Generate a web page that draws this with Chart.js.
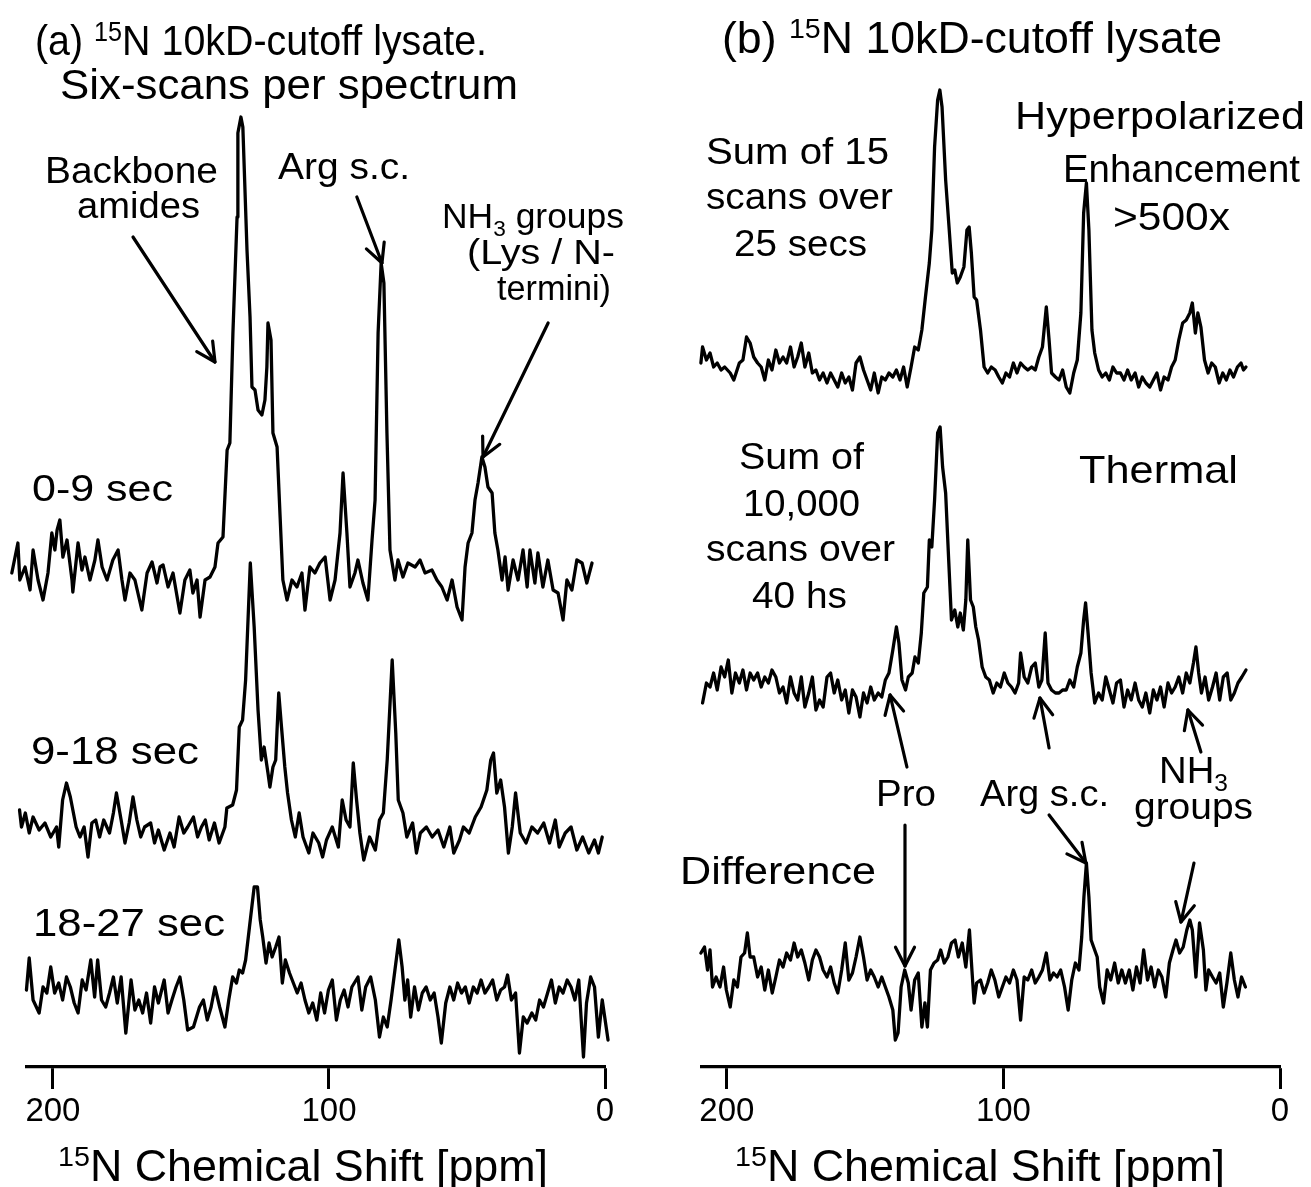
<!DOCTYPE html>
<html><head><meta charset="utf-8">
<script src="https://cdn.jsdelivr.net/npm/chart.js@4"></script>
<style>
body{margin:0;background:#fff}
#wrap{position:relative;width:1311px;height:1187px;background:#fff;overflow:hidden}
canvas{position:absolute;top:0}
</style>
</head><body>
<div id="wrap">
<canvas id="ca" width="655" height="1187" style="left:0"></canvas>
<canvas id="cb" width="656" height="1187" style="left:655px"></canvas>
</div>
<script>
// ---------- DATA (ppm positions and intensities) ----------
const tickVals = [0, 100, 200];

// Panel (a): 0-9 sec
const a0_ppm = [214.9,212.7,212.0,210.1,208.3,207.2,205.4,203.6,201.8,200.4,199.3,198.5,197.5,196.4,194.9,193.1,192.8,190.9,189.5,188.4,186.6,184.8,183.7,182.2,180.4,178.3,176.4,175.0,173.9,172.1,170.3,167.8,165.9,164.1,162.3,161.2,160.1,158.3,156.5,154.0,152.2,150.4,149.3,147.8,146.7,144.9,143.1,141.3,140.2,138.4,136.9,135.9,134.8,133.3,133.0,131.9,131.2,129.7,128.6,127.9,126.8,125.7,124.3,123.2,122.5,122.1,121.0,120.3,118.8,117.7,116.7,115.2,113.4,111.6,109.8,108.7,106.9,105.1,103.3,101.4,99.6,97.8,96.0,94.9,93.5,92.4,90.6,89.5,87.7,85.9,84.4,83.3,82.2,81.1,80.1,79.0,77.9,76.1,75.0,73.2,71.4,68.8,67.0,65.2,62.7,60.9,59.1,57.2,55.4,53.6,51.8,50.7,49.6,48.2,47.1,46.0,44.6,43.5,42.4,40.9,39.9,38.8,37.3,36.2,35.1,33.3,31.5,29.7,28.2,27.2,25.4,24.3,22.5,20.7,18.8,17.0,15.2,13.8,12.0,10.2,8.3,6.6,4.7];
const a0_int = [2,32,-5,8,-15,25,-5,-25,2,42,25,45,55,18,35,-5,-17,32,5,18,-5,15,35,8,-5,15,25,-5,-25,2,-5,-35,2,13,-8,8,10,-12,2,-38,-5,5,-18,-5,-42,-5,-2,8,32,38,125,132,242,358,442,458,448,325,258,188,185,165,160,175,208,252,235,142,128,58,-5,-25,-5,-12,2,-35,8,2,12,18,-25,-5,42,102,42,-12,2,15,-8,-25,35,75,242,312,292,142,25,-5,15,-2,12,8,15,2,5,-5,-12,-25,-5,-32,-45,8,32,42,75,92,118,108,88,82,42,25,-5,18,-15,15,-5,25,-12,25,-8,22,-12,15,-15,-18,-45,-5,-15,15,12,-8,12];

// Panel (a): 9-18 sec
const a1_ppm = [212.1,211.4,210.0,208.6,207.2,205.0,202.9,200.8,198.7,197.9,196.5,195.1,193.7,191.6,190.2,188.7,187.3,185.9,184.5,183.1,181.6,179.5,178.1,177.0,175.3,173.9,172.4,171.0,169.6,168.2,166.8,164.6,163.2,161.8,159.7,157.6,156.1,154.3,152.6,151.2,149.1,147.6,146.2,144.8,143.4,141.5,139.8,137.7,137.0,134.9,133.5,132.5,131.3,130.2,128.5,127.1,125.7,124.5,123.5,122.1,121.4,120.3,119.3,118.2,117.2,116.0,115.0,113.6,112.2,110.8,109.4,107.3,105.8,103.7,102.3,100.9,98.8,96.6,95.2,93.8,92.4,91.2,90.0,88.8,87.4,85.3,83.2,81.7,80.3,78.9,77.1,75.8,74.9,73.2,71.8,69.7,68.3,66.9,64.7,62.6,60.5,58.4,56.2,54.8,52.7,51.3,49.2,47.0,44.9,42.8,41.4,40.4,39.2,37.8,36.4,35.0,33.6,32.4,30.7,28.6,26.5,24.4,22.2,20.1,18.0,16.6,14.4,12.3,10.2,8.1,5.9,3.8,2.4,1.0];
const a1_int = [20,3,17,-3,13,0,7,-7,3,-17,30,47,33,3,-7,3,-27,7,10,-7,10,-3,17,37,10,-13,7,33,10,-7,3,7,-13,0,-20,-3,-17,13,-3,3,13,-7,3,10,-10,7,-13,3,22,25,40,103,110,150,267,203,120,70,83,57,43,63,70,137,103,63,37,10,-7,17,-7,-23,-3,-13,-27,-10,3,-17,30,10,3,67,30,-3,-30,-7,-20,10,17,70,170,97,30,17,-7,7,-23,-3,3,-7,0,-17,3,-23,-10,3,-3,13,23,40,70,77,37,50,23,-23,3,37,-3,-13,3,-3,7,-13,10,-17,-3,3,-20,-7,-23,-10,-23,-7];

// Panel (a): 18-27 sec
const a2_ppm = [209.6,208.6,207.2,205.0,203.6,202.2,200.8,199.4,197.9,196.5,195.1,193.7,192.3,190.9,189.4,188.0,186.3,184.9,183.8,182.4,180.9,179.5,178.1,176.7,175.3,173.6,171.7,170.3,168.9,167.5,166.1,164.6,163.2,161.8,159.7,158.3,156.9,155.4,154.0,152.6,151.2,149.1,146.9,145.5,144.1,142.7,141.3,139.6,137.7,136.3,134.9,133.5,132.5,131.3,130.2,128.8,127.1,125.9,124.9,124.0,122.8,121.7,120.6,119.3,118.1,116.9,115.8,114.3,112.9,111.5,110.1,108.7,107.3,105.9,104.4,103.0,101.6,100.2,98.8,97.3,95.9,94.5,93.1,91.7,89.5,88.1,86.7,84.9,83.2,81.7,80.3,78.9,77.5,76.1,74.7,73.5,72.5,71.5,70.4,69.0,67.6,66.2,64.8,63.3,61.9,60.5,59.3,57.7,56.2,54.8,53.4,52.0,50.6,49.2,47.7,46.3,44.9,43.5,42.1,40.7,39.2,37.8,36.4,35.3,33.9,32.4,31.0,29.6,28.2,26.5,25.1,23.7,22.3,20.8,19.4,18.0,16.6,15.2,13.7,12.3,10.9,9.5,7.8,6.7,5.2,3.8,2.4,1.0,-1.1];
const a2_int = [5,37,-5,-18,8,2,28,2,12,-5,18,8,-8,-18,15,5,35,-2,35,-5,-12,2,18,-8,18,-38,15,-15,-5,-18,2,-28,8,-8,15,-18,-5,8,18,-5,-35,-32,-12,-5,-25,-12,8,-12,-32,-5,18,12,25,22,35,68,108,108,75,58,32,52,38,48,58,12,35,22,12,2,12,-5,-18,-8,-25,2,-18,5,15,-25,-5,5,-12,8,18,-15,8,18,-5,-42,-22,-32,-5,25,55,28,-5,15,-22,8,-15,2,8,-5,2,-22,-48,-8,8,-5,12,2,8,-8,8,2,15,2,8,15,-5,5,8,20,-5,2,-58,-22,-28,-18,-25,-5,-12,2,15,-8,8,2,15,8,-5,15,-62,-8,18,8,-42,-5,-45];

// Panel (b): hyperpolarized sum
const b0_ppm = [209.4,208.8,207.4,206.1,204.8,203.5,202.1,200.8,198.8,197.5,195.5,194.2,192.9,191.6,190.3,188.9,187.6,186.3,185.0,183.7,182.3,181.0,179.7,178.4,177.0,175.7,174.4,173.1,171.8,170.4,169.1,167.8,166.5,165.2,163.8,162.5,161.2,159.9,158.5,157.2,155.9,154.6,153.3,151.9,150.6,149.3,148.0,146.7,145.3,144.0,142.7,141.4,140.0,138.7,137.4,136.1,134.8,133.4,132.1,130.8,129.5,128.2,126.8,125.9,124.9,123.8,123.0,122.2,120.9,119.6,118.5,117.6,116.7,115.6,114.3,113.2,112.4,111.6,110.6,109.7,108.3,107.0,105.7,104.4,103.0,101.7,100.4,99.1,97.8,96.4,95.1,93.8,92.5,91.2,89.8,88.5,87.2,85.9,84.5,83.5,82.6,81.2,79.9,78.6,77.3,76.0,74.6,73.3,72.0,71.0,70.0,69.1,68.0,67.0,65.6,64.3,63.0,61.7,60.4,59.1,57.7,56.4,55.1,53.8,52.4,51.1,49.8,48.5,47.1,45.8,44.5,43.2,41.9,40.5,39.2,37.9,36.6,35.2,33.9,32.6,31.7,30.6,29.7,28.6,27.3,26.0,24.7,23.4,22.0,20.7,19.4,18.1,16.8,15.4,14.1,13.2,12.3];
const b0_int = [7,23,10,17,3,7,0,3,-3,-10,7,10,33,27,13,7,3,-10,10,0,20,7,13,7,23,3,13,27,3,17,-3,0,-10,-3,-13,-3,-10,-17,-3,-13,-7,-20,7,13,0,-10,-20,-3,-23,-7,-10,-3,-7,0,-10,3,-17,3,23,20,40,73,107,140,223,270,280,263,190,140,97,100,87,93,103,140,143,117,73,70,40,3,-3,3,0,-7,-13,-3,-7,7,-3,7,3,0,3,0,13,23,63,30,-3,-7,-10,0,-17,-23,-3,10,57,157,187,140,40,17,0,-7,-3,-10,3,-3,-3,-10,0,-10,-3,-17,-7,-13,-17,-10,-3,-20,-7,-10,3,10,30,47,50,57,67,37,57,43,10,-3,7,3,-13,-3,-10,0,-7,3,7,0,3];

// Panel (b): thermal
const b1_ppm = [208.8,207.4,206.1,204.8,203.5,202.1,200.8,199.5,198.2,196.9,195.5,194.2,192.9,191.6,190.3,188.9,187.6,186.3,185.0,183.7,182.3,181.0,179.7,178.4,177.0,175.7,174.4,173.1,171.8,170.4,169.1,167.8,166.5,165.2,163.8,162.5,161.2,159.9,158.5,157.2,155.9,154.6,153.3,151.9,150.6,149.3,148.0,146.7,145.3,144.0,142.7,141.4,140.0,138.7,137.8,136.7,135.4,134.4,133.0,132.0,130.8,129.7,128.8,127.5,126.8,125.9,124.9,123.8,122.9,122.0,120.9,119.8,118.8,117.6,116.5,115.6,114.5,113.6,112.9,111.9,110.9,110.0,109.0,107.7,106.4,105.1,103.7,102.4,101.1,99.7,98.4,97.1,95.8,94.5,93.8,92.5,91.2,89.8,88.5,87.2,86.1,84.9,83.9,82.6,81.2,79.9,78.6,77.3,76.0,74.6,73.3,72.0,71.0,70.3,69.4,68.3,67.0,65.6,64.3,63.0,61.7,60.4,59.1,57.7,56.4,55.1,53.8,52.4,51.1,49.8,48.5,47.1,45.8,44.5,43.2,41.9,40.5,39.2,37.9,36.6,35.2,33.9,32.6,31.3,30.4,29.4,28.4,27.1,25.8,24.4,23.1,21.8,20.5,19.1,17.8,16.5,15.2,13.8,12.3];
const b1_int = [-13,7,3,17,0,23,13,30,-3,17,7,20,0,17,10,17,3,13,7,20,13,-3,3,-13,13,-3,-10,13,-17,-3,13,-20,-10,-17,13,17,-3,10,-10,0,-23,0,-7,-27,-3,-13,3,-10,-3,-7,10,17,40,63,47,10,0,13,17,33,27,57,97,103,150,143,190,257,263,223,197,130,70,80,63,77,60,90,150,90,83,63,50,23,13,10,-3,7,3,17,7,3,-3,7,37,13,7,23,27,3,10,57,7,0,-3,-3,0,0,10,3,23,37,70,87,57,17,-13,-3,-10,13,0,-13,7,10,-17,0,-10,7,-10,-17,-3,-23,0,-10,3,-17,7,-3,3,13,-3,17,7,27,43,17,-3,13,-10,3,17,-10,13,17,-10,-3,7,13,20];

// Panel (b): difference
const b2_ppm = [209.4,208.1,207.0,206.1,205.2,203.9,202.5,201.2,200.2,198.8,197.5,196.2,194.9,193.6,192.6,191.6,190.3,188.9,187.6,186.3,185.0,183.6,182.3,181.0,179.7,178.4,177.0,175.7,174.4,173.1,171.8,170.4,169.1,167.8,166.5,165.2,163.8,162.5,161.2,159.9,158.5,157.2,155.9,154.6,153.3,151.9,150.6,149.3,148.0,146.7,145.3,144.0,142.7,141.4,140.0,139.1,138.1,137.0,135.7,134.4,133.4,132.1,130.8,129.5,128.4,127.5,126.4,125.1,123.8,122.7,121.4,120.1,118.8,117.5,116.3,114.9,113.6,112.3,111.4,110.6,109.7,108.3,107.0,105.7,104.4,103.1,101.7,100.4,99.1,97.8,96.4,95.1,93.8,92.5,91.2,89.8,88.5,87.2,85.9,84.5,83.2,81.9,80.6,79.3,77.9,76.6,75.3,74.0,72.7,71.7,70.9,70.0,69.1,68.3,67.4,66.1,65.2,63.8,62.5,61.2,59.8,58.5,57.2,55.9,54.5,53.2,51.9,50.6,49.3,47.9,46.6,45.3,44.0,42.7,41.3,40.0,38.7,37.6,36.3,35.0,33.7,32.6,31.7,30.4,29.1,27.7,26.8,25.8,24.4,23.1,21.8,20.5,19.2,17.8,16.5,15.2,13.9,12.5];
const b2_int = [25,31,8,28,-9,1,-9,11,-12,-29,-2,-9,21,25,45,21,21,1,11,-12,8,-15,1,18,11,25,18,35,21,28,15,-2,18,28,21,8,1,11,-5,-15,8,35,-2,5,21,41,21,-2,8,1,-9,1,-9,-19,-32,-62,-55,-9,8,-5,-32,-2,5,-49,-25,-49,8,15,18,28,15,21,35,38,21,35,11,48,8,-25,-5,-2,-15,-5,8,-2,-19,-9,1,-5,8,-2,-42,1,-2,8,-5,1,8,25,-2,5,1,8,-9,-32,-2,15,8,41,81,115,81,38,31,21,-9,-25,8,-2,15,-5,8,-5,8,-12,11,-5,28,-2,11,-9,8,1,-19,15,28,38,25,31,48,58,48,1,55,28,-12,8,1,-5,5,-29,-5,25,-2,-19,1,-9];

// vertical stacking offsets of each trace (same units as intensities)
const offsetsA = [492, 237, 72];
const offsetsB = [697, 377, 89];

// ---------- DRAWING ----------
const FAM = "'Liberation Sans', Arial, Helvetica, sans-serif";

function drawRich(ctx, segs, left, base, size, width) {
  const parts = segs.map(s => {
    const sz = s[1] ? size * 0.64 : size;
    ctx.font = sz + 'px ' + FAM;
    return { t: s[0], sz, w: ctx.measureText(s[0]).width,
             dy: s[1] === 'sup' ? -size * 0.34 : (s[1] === 'sub' ? size * 0.22 : 0) };
  });
  const W = parts.reduce((a, p) => a + p.w, 0);
  const hs = width ? width / W : 1;
  ctx.save();
  ctx.translate(left, base);
  ctx.scale(hs, 1);
  ctx.fillStyle = '#000';
  ctx.textAlign = 'left';
  ctx.textBaseline = 'alphabetic';
  let x = 0;
  parts.forEach(p => { ctx.font = p.sz + 'px ' + FAM; ctx.fillText(p.t, x, p.dy); x += p.w; });
  ctx.restore();
}

function arrow(ctx, x1, y1, x2, y2) {
  const ang = Math.atan2(y2 - y1, x2 - x1);
  const L = 21, a = 0.47;
  ctx.save();
  ctx.strokeStyle = '#000'; ctx.lineWidth = 3.2; ctx.lineCap = 'round'; ctx.lineJoin = 'round';
  ctx.beginPath(); ctx.moveTo(x1, y1); ctx.lineTo(x2, y2); ctx.stroke();
  ctx.beginPath();
  ctx.moveTo(x2 - L * Math.cos(ang - a), y2 - L * Math.sin(ang - a));
  ctx.lineTo(x2, y2);
  ctx.lineTo(x2 - L * Math.cos(ang + a), y2 - L * Math.sin(ang + a));
  ctx.stroke();
  ctx.restore();
}

function makeChart(id, ppms, ints, offsets, xmax, padL, padR, texts, arrows, offX) {
  const datasets = ppms.map((p, k) => ({
    data: p.map((v, i) => ({ x: v, y: offsets[k] + ints[k][i] })),
    borderColor: '#000', borderWidth: 3.3, pointRadius: 0, tension: 0,
    fill: false, clip: false, borderJoinStyle: 'round', borderCapStyle: 'round'
  }));
  const annot = {
    id: 'annot',
    afterDraw(chart) {
      const ctx = chart.ctx, xs = chart.scales.x, ys = chart.scales.y;
      texts.forEach(t => drawRich(ctx, t[0], t[1] - offX, t[2], t[3], t[4]));
      arrows.forEach(a => arrow(ctx, xs.getPixelForValue(a[0]), ys.getPixelForValue(a[1]),
                                     xs.getPixelForValue(a[2]), ys.getPixelForValue(a[3])));
    }
  };
  return new Chart(document.getElementById(id), {
    type: 'line',
    data: { datasets },
    plugins: [annot],
    options: {
      responsive: false, animation: false, events: [],
      layout: { padding: { left: padL, right: padR, top: 0, bottom: 52.4 } },
      plugins: { legend: { display: false }, tooltip: { enabled: false } },
      scales: {
        x: {
          type: 'linear', reverse: true, min: 0, max: xmax,
          afterBuildTicks: s => { s.ticks = tickVals.map(v => ({ value: v })); },
          ticks: { color: '#000', font: { size: 33, family: FAM }, padding: 3, maxRotation: 0, minRotation: 0, autoSkip: false,
                   callback: v => String(v) },
          grid: { display: true, drawOnChartArea: false, drawTicks: true, tickLength: 22, tickWidth: 3, color: '#000' },
          border: { display: true, width: 3.2, color: '#000' }
        },
        y: { display: false, min: 0, max: 1067 }
      }
    }
  });
}

const textsA = [
  [[['(a) '], ['15', 'sup'], ['N 10kD-cutoff lysate.']], 35, 55, 42, 452],
  [[['Six-scans per spectrum']], 60, 99, 42, 458],
  [[['Backbone']], 45, 183, 36, 173],
  [[['amides']], 77, 218, 36, 123],
  [[['Arg s.c.']], 278, 179, 36, 132],
  [[['NH'], ['3', 'sub'], [' groups']], 442, 228, 35, 182],
  [[['(Lys / N-']], 467, 264, 35, 148],
  [[['termini)']], 497, 300, 35, 114],
  [[['0-9 sec']], 32, 501, 37, 141],
  [[['9-18 sec']], 31, 764, 38, 168],
  [[['18-27 sec']], 33, 936, 38, 192],
  [[['15', 'sup'], ['N Chemical Shift [ppm]']], 58, 1181, 44, 490]
];
const textsB = [
  [[['(b) '], ['15', 'sup'], ['N 10kD-cutoff lysate']], 722, 53, 44, 500],
  [[['Hyperpolarized']], 1015, 129, 39, 290],
  [[['Enhancement']], 1063, 182, 39, 237],
  [[['>500x']], 1113, 230, 39, 117],
  [[['Sum of 15']], 706, 164, 37, 183],
  [[['scans over']], 706, 209, 37, 187],
  [[['25 secs']], 734, 256, 37, 133],
  [[['Sum of']], 739, 469, 37, 125],
  [[['10,000']], 743, 516, 37, 117],
  [[['scans over']], 706, 561, 37, 189],
  [[['40 hs']], 752, 608, 37, 95],
  [[['Thermal']], 1079, 483, 39, 159],
  [[['Pro']], 876, 806, 36, 60],
  [[['Arg s.c.']], 980, 806, 36, 129],
  [[['NH'], ['3', 'sub']], 1159, 783, 36, 69],
  [[['groups']], 1134, 819, 36, 119],
  [[['Difference']], 680, 884, 39, 196],
  [[['15', 'sup'], ['N Chemical Shift [ppm]']], 735, 1181, 44, 490]
];
// arrows: [tail ppm, tail level, head ppm, head level]
const arrowsA = [[171.0, 830, 141.3, 705], [89.9, 870, 80.8, 804], [20.6, 744, 44.2, 610]];
const arrowsB = [[134.9, 300, 141.0, 372], [83.5, 319, 86.8, 369], [28.6, 315, 33.3, 357],
                 [135.6, 242, 135.6, 101], [83.5, 252, 70.2, 204], [31.1, 204, 35.8, 145]];

makeChart('ca', [a0_ppm, a1_ppm, a2_ppm], [a0_int, a1_int, a2_int], offsetsA, 209.4, 27, 50, textsA, arrowsA, 0);
makeChart('cb', [b0_ppm, b1_ppm, b2_ppm], [b0_int, b1_int, b2_int], offsetsB, 209.0, 47, 31, textsB, arrowsB, 655);
</script>
</body></html>
